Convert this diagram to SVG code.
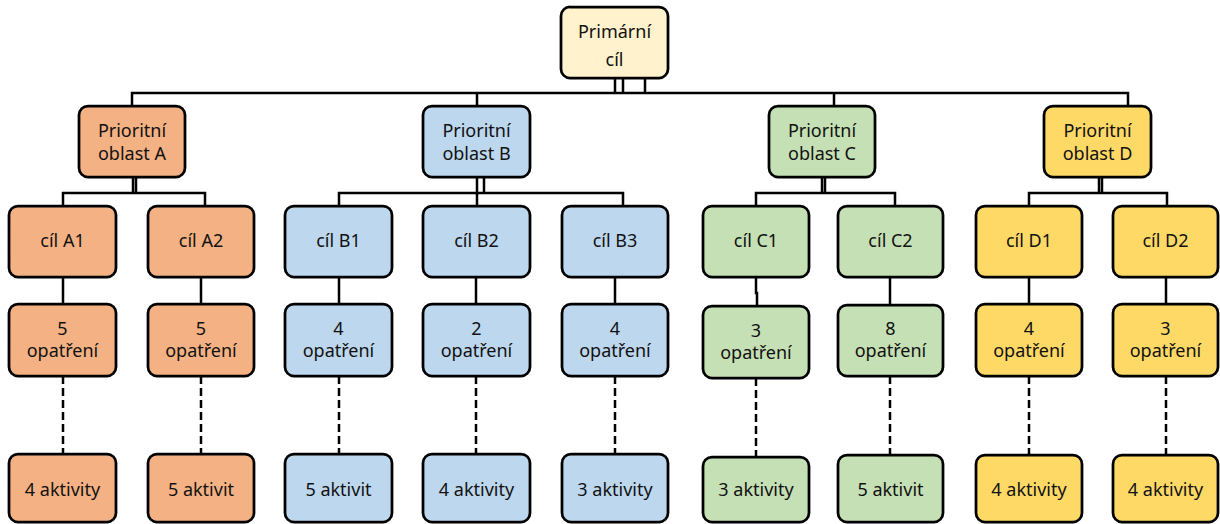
<svg xmlns="http://www.w3.org/2000/svg" width="1220" height="524" viewBox="0 0 1220 524">
<style>
.box{stroke:#000;stroke-width:2.75}
.p{fill:#FFF2CC}.a{fill:#F4B183}.b{fill:#BDD7EE}.c{fill:#C5E0B4}.d{fill:#FFD966}
text{font-family:"Noto Sans","Open Sans",sans-serif;font-size:18px;fill:#111;text-anchor:middle}
.ln{fill:none;stroke:#000;stroke-width:2.5}
.ds{fill:none;stroke:#000;stroke-width:2.5;stroke-dasharray:8 4}
</style>
<rect width="1220" height="524" fill="#fff"/>
<g id="connectors">
<path class="ln" d="M615 78V93M623 78V93M645 78V93M132 106V93H1128V106M477 93V106M834 93V106"/>
<path class="ln" d="M133 177V193M136 177V193M63 206V193H205V206"/>
<path class="ln" d="M477 177V193M484 177V193M339 206V193H623V206M477 193V206"/>
<path class="ln" d="M822 177V193M825 177V193M756 206V193H895V206"/>
<path class="ln" d="M1099 177V193M1102 177V193M1029 206V193H1167V206"/>
<path class="ln" d="M63 277V304M201 277V304M339 277V304M476 277V304M615 277V304M756 277V293H757V306M890 277V305M1029 277V304M1166 277V304"/>
<path class="ds" d="M63 376V454M201 376V454M339 376V454M476 376V454M615 376V454M756 378V457M890 376V454M1029 376V454M1166 376V454"/>
</g>
<g id="primary"><rect class="box p" x="561" y="7" width="107" height="71" rx="9"/><text x="614.5" y="38">Primární</text><text x="614.5" y="66">cíl</text></g>
<g id="areaA"><rect class="box a" x="79" y="106" width="106" height="71" rx="9"/><text x="132" y="137">Prioritní</text><text x="132" y="160">oblast A</text></g>
<g id="areaB"><rect class="box b" x="423" y="106" width="107" height="71" rx="9"/><text x="476.5" y="137">Prioritní</text><text x="476.5" y="160">oblast B</text></g>
<g id="areaC"><rect class="box c" x="769" y="106" width="106" height="71" rx="9"/><text x="822" y="137">Prioritní</text><text x="822" y="160">oblast C</text></g>
<g id="areaD"><rect class="box d" x="1044" y="106" width="107" height="71" rx="9"/><text x="1097.5" y="137">Prioritní</text><text x="1097.5" y="160">oblast D</text></g>

<g id="cilA1"><rect class="box a" x="9" y="206" width="107" height="71" rx="9"/><text x="62.5" y="247">cíl A1</text></g>
<g id="cilA2"><rect class="box a" x="148" y="206" width="106" height="71" rx="9"/><text x="201" y="247">cíl A2</text></g>
<g id="cilB1"><rect class="box b" x="285" y="206" width="107" height="71" rx="9"/><text x="338.5" y="247">cíl B1</text></g>
<g id="cilB2"><rect class="box b" x="423" y="206" width="107" height="71" rx="9"/><text x="476.5" y="247">cíl B2</text></g>
<g id="cilB3"><rect class="box b" x="562" y="206" width="106" height="71" rx="9"/><text x="615" y="247">cíl B3</text></g>
<g id="cilC1"><rect class="box c" x="703" y="206" width="106" height="71" rx="9"/><text x="756" y="247">cíl C1</text></g>
<g id="cilC2"><rect class="box c" x="838" y="206" width="105" height="71" rx="9"/><text x="890.5" y="247">cíl C2</text></g>
<g id="cilD1"><rect class="box d" x="976" y="206" width="106" height="71" rx="9"/><text x="1029" y="247">cíl D1</text></g>
<g id="cilD2"><rect class="box d" x="1113" y="206" width="105" height="71" rx="9"/><text x="1165.5" y="247">cíl D2</text></g>

<g id="opA1"><rect class="box a" x="9" y="304" width="107" height="72" rx="9"/><text x="62.5" y="335">5</text><text x="62.5" y="357">opatření</text></g>
<g id="opA2"><rect class="box a" x="148" y="304" width="106" height="72" rx="9"/><text x="201" y="335">5</text><text x="201" y="357">opatření</text></g>
<g id="opB1"><rect class="box b" x="285" y="304" width="107" height="72" rx="9"/><text x="338.5" y="335">4</text><text x="338.5" y="357">opatření</text></g>
<g id="opB2"><rect class="box b" x="423" y="304" width="107" height="72" rx="9"/><text x="476.5" y="335">2</text><text x="476.5" y="357">opatření</text></g>
<g id="opB3"><rect class="box b" x="562" y="304" width="106" height="72" rx="9"/><text x="615" y="335">4</text><text x="615" y="357">opatření</text></g>
<g id="opC1"><rect class="box c" x="703" y="306" width="106" height="72" rx="9"/><text x="756" y="337">3</text><text x="756" y="359">opatření</text></g>
<g id="opC2"><rect class="box c" x="838" y="305" width="105" height="71" rx="9"/><text x="890.5" y="335">8</text><text x="890.5" y="357">opatření</text></g>
<g id="opD1"><rect class="box d" x="976" y="304" width="106" height="72" rx="9"/><text x="1029" y="335">4</text><text x="1029" y="357">opatření</text></g>
<g id="opD2"><rect class="box d" x="1113" y="304" width="105" height="72" rx="9"/><text x="1165.5" y="335">3</text><text x="1165.5" y="357">opatření</text></g>

<g id="akA1"><rect class="box a" x="9" y="454" width="107" height="68" rx="9"/><text x="62.5" y="496">4 aktivity</text></g>
<g id="akA2"><rect class="box a" x="148" y="454" width="106" height="68" rx="9"/><text x="201" y="496">5 aktivit</text></g>
<g id="akB1"><rect class="box b" x="285" y="454" width="107" height="68" rx="9"/><text x="338.5" y="496">5 aktivit</text></g>
<g id="akB2"><rect class="box b" x="423" y="454" width="107" height="68" rx="9"/><text x="476.5" y="496">4 aktivity</text></g>
<g id="akB3"><rect class="box b" x="562" y="454" width="106" height="68" rx="9"/><text x="615" y="496">3 aktivity</text></g>
<g id="akC1"><rect class="box c" x="703" y="457" width="106" height="65" rx="9"/><text x="756" y="496">3 aktivity</text></g>
<g id="akC2"><rect class="box c" x="838" y="455" width="105" height="67" rx="9"/><text x="890.5" y="496">5 aktivit</text></g>
<g id="akD1"><rect class="box d" x="976" y="455" width="106" height="67" rx="9"/><text x="1029" y="496">4 aktivity</text></g>
<g id="akD2"><rect class="box d" x="1113" y="455" width="105" height="67" rx="9"/><text x="1165.5" y="496">4 aktivity</text></g>
</svg>
